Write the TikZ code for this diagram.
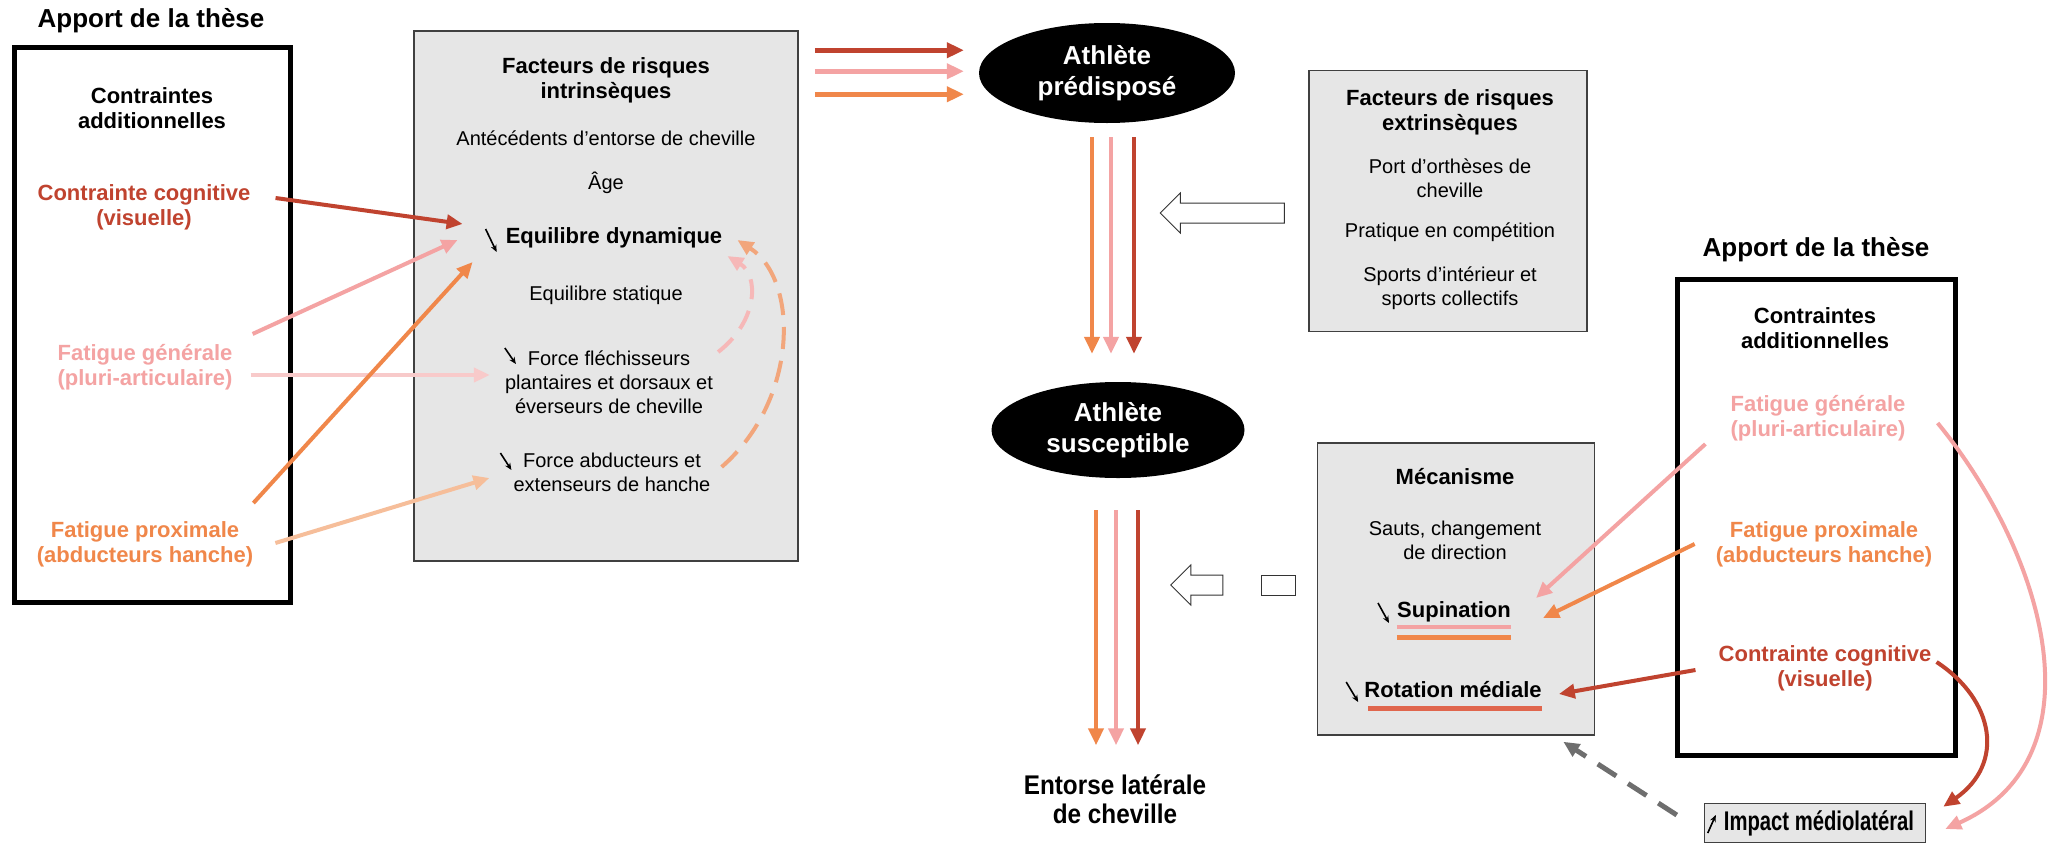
\documentclass[tikz,border=0pt]{standalone}
\usepackage{fontspec}
\setmainfont{Liberation Sans}
\newfontfamily\narrowfont[FakeStretch=0.75]{Liberation Sans}
\newfontfamily\entorsefont[FakeStretch=0.9]{Liberation Sans}
\usetikzlibrary{arrows.meta,shapes.geometric,calc}
\definecolor{cogred}{HTML}{C0432F}
\definecolor{fatpink}{HTML}{F4A3A3}
\definecolor{proxorange}{HTML}{F0874A}
\definecolor{palepink}{HTML}{F8CACA}
\definecolor{palepeach}{HTML}{F6BE9A}
\definecolor{dashpink}{HTML}{F6B8B8}
\definecolor{dashpeach}{HTML}{F2A67C}
\definecolor{rotline}{HTML}{E0664D}
\definecolor{boxgrey}{HTML}{E6E6E6}
\definecolor{dashgrey}{HTML}{6E6E6E}

\begin{document}
\begin{tikzpicture}[x=1pt,y=-1pt,
  thesebox/.style={draw,line width=5pt,minimum width=276pt,inner sep=0pt},
  riskbox/.style={draw=black!75,fill=boxgrey,line width=1.5pt,inner sep=0pt},
  athlete/.style={ellipse,fill=black,text=white,align=center,inner sep=0pt,minimum width=256pt,minimum height=100pt,font=\bfseries\fontsize{26}{31}\selectfont},
  thesetitle/.style={inner sep=0pt,font=\bfseries\fontsize{26}{30}\selectfont},
  boldtext/.style={align=center,inner sep=0pt,font=\bfseries\fontsize{22}{25}\selectfont},
  plaintext/.style={align=center,inner sep=0pt,font=\fontsize{20}{24}\selectfont},
  flow/.style={line width=4.5pt,-{Triangle[length=17pt,width=15pt]}},
  feed/.style={line width=4pt,-{Triangle[length=16pt,width=14pt]}},
  trend/.style={line width=1.6pt,-{Stealth[length=7pt,width=6pt]}},
  hollow/.style={draw=black!80,fill=white,line width=1pt}]
\useasboundingbox[fill=white] (0,0) rectangle (2049,846);

% apport de la these, gauche
\node[thesetitle] (ltitle) at (151,21) {Apport de la thèse};
\node[thesebox,minimum height=555pt] (lbox) at (152,325) {};
\node[boldtext] (lhead) at (152,108) {Contraintes\\additionnelles};
\node[boldtext,text=cogred] (lcog) at (144,207) {Contrainte cognitive\\(visuelle)};
\node[boldtext,text=fatpink] (lgen) at (145,367) {Fatigue générale\\(pluri-articulaire)};
\node[boldtext,text=proxorange] (lprox) at (145,544) {Fatigue proximale\\(abducteurs hanche)};

% facteurs intrinseques
\node[riskbox,minimum width=384pt,minimum height=530pt] (intr) at (606,296) {};
\node[boldtext] (intrhead) at (606,80) {Facteurs de risques\\intrinsèques};
\node[plaintext] (antec) at (606,138) {Antécédents d’entorse de cheville};
\node[plaintext] (age) at (606,183) {Âge};
\node[boldtext] (eqdyn) at (614,238) {Equilibre dynamique};
\node[plaintext] (eqstat) at (606,295) {Equilibre statique};
\node[plaintext] (forcef) at (609,382) {Force fléchisseurs\\plantaires et dorsaux et\\éverseurs de cheville};
\node[plaintext] (forcea) at (612,472) {Force abducteurs et\\extenseurs de hanche};
\draw[trend] ($(eqdyn.west)+(-20,-9)$) -- ++(11,23);
\draw[trend] ($(forcef.west)+(0,-34)$) -- ++(11,16);
\draw[trend] ($(forcea.west)+(-13,-19)$) -- ++(11,17);

\draw[feed,cogred] ($(lcog.east)+(25,-9)$) -- ($(eqdyn.west)+(-43,-14)$);
\draw[feed,fatpink] ($(lgen.north east)+(20,-10)$) -- ($(eqdyn.west)+(-48,2)$);
\draw[feed,palepink] ($(lgen.east)+(18,8)$) -- ($(forcef.west)+(-15,-7)$);
\draw[feed,proxorange] ($(lprox.north east)+(0,-18)$) -- ($(eqdyn.west)+(-33,24)$);
\draw[feed,palepeach] ($(lprox.east)+(22,-1)$) -- ($(forcea.west)+(-24,6)$);
\draw[feed,dashpink,dash pattern=on 20pt off 12pt] ($(forcef.east)+(5,-30)$) .. controls +(41,-32) and +(31,19) .. ($(eqdyn.east)+(5,18)$);
\draw[feed,dashpeach,dash pattern=on 22pt off 12pt] ($(forcea.east)+(11,-5)$) .. controls +(77,-67) and +(62,40) .. ($(eqdyn.east)+(15,2)$);

% athlete
\node[athlete] (pred) at (1107,73) {Athlète\\prédisposé};
\node[athlete,minimum width=253pt,minimum height=96pt] (susc) at (1118,430) {Athlète\\susceptible};
\node[align=center,inner sep=0pt,font=\entorsefont\bfseries\fontsize{27}{29}\selectfont] (entorse) at (1115,799) {Entorse latérale\\de cheville};

\draw[flow,cogred] ($(intr.north east)+(16,20)$) -- ($(pred.west|-intr.north east)+(-15,20)$);
\draw[flow,fatpink] ($(intr.north east)+(16,41)$) -- ($(pred.west|-intr.north east)+(-15,41)$);
\draw[flow,proxorange] ($(intr.north east)+(16,64)$) -- ($(pred.west|-intr.north east)+(-15,64)$);
\draw[flow,proxorange] ($(pred.south)+(-15,14)$) -- ($(pred.south|-susc.north)+(-15,-28)$);
\draw[flow,fatpink] ($(pred.south)+(4,14)$) -- ($(pred.south|-susc.north)+(4,-28)$);
\draw[flow,cogred] ($(pred.south)+(27,14)$) -- ($(pred.south|-susc.north)+(27,-28)$);
\draw[flow,proxorange] ($(susc.south)+(-22,32)$) -- ($(susc.south|-entorse.north)+(-22,-29)$);
\draw[flow,fatpink] ($(susc.south)+(-2,32)$) -- ($(susc.south|-entorse.north)+(-2,-29)$);
\draw[flow,cogred] ($(susc.south)+(20,32)$) -- ($(susc.south|-entorse.north)+(20,-29)$);

% facteurs extrinseques
\node[riskbox,minimum width=278pt,minimum height=261pt] (extr) at (1448,201) {};
\node[boldtext] (extrhead) at (1450,112) {Facteurs de risques\\extrinsèques};
\node[plaintext] (orth) at (1450,178) {Port d’orthèses de\\cheville};
\node[plaintext] (compet) at (1450,232) {Pratique en compétition};
\node[plaintext] (indoor) at (1450,288) {Sports d’intérieur et\\sports collectifs};
\draw[hollow] ($(extr.west)+(-148,12)$) -- ++(20,-20) -- ++(0,10) -- ++(104,0) -- ++(0,20) -- ++(-104,0) -- ++(0,10) -- cycle;

% mecanisme
\node[riskbox,minimum width=277pt,minimum height=292pt] (mech) at (1456,589) {};
\node[boldtext] (mechhead) at (1455,477) {Mécanisme};
\node[plaintext] (sauts) at (1455,540) {Sauts, changement\\de direction};
\node[boldtext] (sup) at (1454,612) {Supination};
\node[boldtext] (rot) at (1453,690) {Rotation médiale};
\draw[trend] ($(sup.west)+(-19,-9)$) -- ++(11,20);
\draw[trend] ($(rot.west)+(-18,-8)$) -- ++(12,20);
\draw[fatpink,line width=4pt] ($(sup.south west)+(0,5)$) -- ($(sup.south east)+(0,5)$);
\draw[proxorange,line width=5pt] ($(sup.south west)+(0,15)$) -- ($(sup.south east)+(0,15)$);
\draw[rotline,line width=5pt] ($(rot.south west)+(4,10)$) -- ($(rot.south east)+(0,10)$);
\draw[hollow] ($(mech.west)+(-146,-4)$) -- ++(20,-20) -- ++(0,10) -- ++(32,0) -- ++(0,20) -- ++(-32,0) -- ++(0,10) -- cycle;
\draw[hollow] ($(mech.west)+(-55,-14)$) rectangle ++(34,20);

% apport de la these, droite
\node[thesetitle] (rtitle) at (1816,250) {Apport de la thèse};
\node[thesebox,minimum height=476pt,minimum width=278pt] (rbox) at (1816,517) {};
\node[boldtext] (rhead) at (1815,328) {Contraintes\\additionnelles};
\node[boldtext,text=fatpink] (rgen) at (1818,418) {Fatigue générale\\(pluri-articulaire)};
\node[boldtext,text=proxorange] (rprox) at (1824,544) {Fatigue proximale\\(abducteurs hanche)};
\node[boldtext,text=cogred] (rcog) at (1825,668) {Contrainte cognitive\\(visuelle)};
\node[riskbox,minimum width=221pt,minimum height=39pt] (imp) at (1815,823) {};
\node[inner sep=0pt,font=\narrowfont\bfseries\fontsize{27}{29}\selectfont] (impt) at (1819,823) {Impact médiolatéral};
\draw[trend] ($(imp.west)+(4,10)$) -- ++(8,-18);

\draw[feed,fatpink] ($(rgen.south west)+(-25,3)$) -- ($(sup.east)+(25,-14)$);
\draw[feed,proxorange] ($(rprox.west)+(-21,0)$) -- ($(sup.east)+(32,6)$);
\draw[feed,cogred] ($(rcog.west)+(-23,2)$) -- ($(rot.east)+(17,4)$);
\draw[feed,cogred] ($(rcog.east)+(5,-6)$) .. controls +(58,38) and +(62,-43) .. ($(imp.north east)+(17,4)$);
\draw[feed,fatpink] ($(rgen.east)+(32,5)$) .. controls +(112,137) and +(155,-69) .. ($(imp.east)+(19,6)$);
\draw[feed,dashgrey,line width=5pt,dash pattern=on 22pt off 14pt] ($(imp.west)+(-27,-8)$) -- ($(mech.south east)+(-32,6)$);
\end{tikzpicture}
\end{document}
